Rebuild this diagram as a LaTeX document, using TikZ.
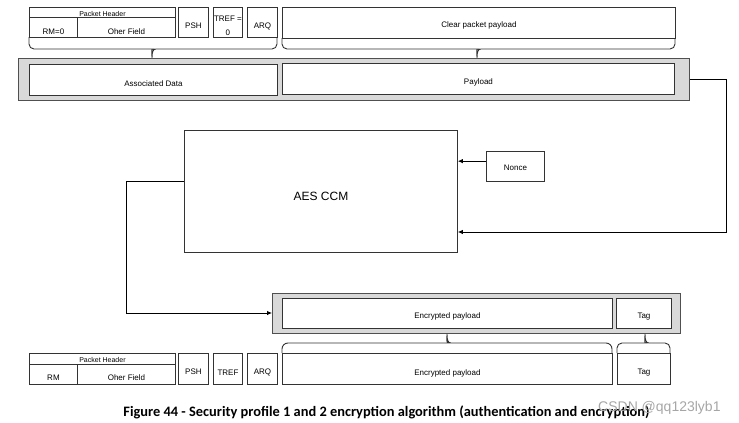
\documentclass[tikz,border=0pt]{standalone}
\usepackage{fontspec}
\setmainfont{Liberation Sans}
\newfontfamily\capfont{Carlito}
\usetikzlibrary{arrows.meta,calc}
\definecolor{boxline}{HTML}{333333}
\definecolor{grayfill}{HTML}{D9D9D9}
\definecolor{grayline}{HTML}{505050}
\newcommand\lowr[2][3.5pt]{\raisebox{-#1}[\height][\depth]{#2}}
\begin{document}
\begin{tikzpicture}[x=1pt,y=-1pt,
  box/.style={draw=boxline, fill=white, line width=0.9pt, inner sep=0pt, anchor=north west, align=center, font=\fontsize{8}{9.6}\selectfont},
  smallbox/.style={box, font=\fontsize{7}{8}\selectfont},
  container/.style={draw=grayline, fill=grayfill, line width=1.3pt, inner sep=0pt, anchor=north west},
  brc/.style={draw=boxline, line width=0.9pt},
  arr/.style={draw=black, line width=0.8pt, -{Latex[length=5pt,width=4.5pt]}}]
\useasboundingbox (0,0) rectangle (739,423);

% ---------- top row ----------
\node[smallbox, minimum width=146pt, minimum height=10pt] (phA) at (29,7) {\lowr[1.5pt]{Packet Header}};
\node[box, minimum width=48pt, minimum height=20pt] (rmA) at (29,17) {\lowr[4pt]{RM=0}};
\node[box, minimum width=98pt, minimum height=20pt] (ofA) at (77,17) {\lowr[4pt]{Oher Field}};
\node[box, minimum width=30pt, minimum height=30pt] (pshA) at (178,7) {\lowr[3pt]{PSH}};
\node[box, minimum width=29pt, minimum height=30pt] (trefA) at (213,7) {\lowr[4pt]{\begin{tabular}{@{}c@{}}TREF =\\[4.4pt]0\end{tabular}}};
\node[box, minimum width=30pt, minimum height=30pt] (arqA) at (247,7) {\lowr[4pt]{ARQ}};
\node[box, minimum width=393pt, minimum height=31pt] (clear) at (282,7) {\lowr[2.5pt]{Clear packet payload}};

% top braces
\draw[brc] (29,37) [rounded corners=5pt] -- (29,49) -- (148,49) [sharp corners]
  .. controls (151,49) and (152,52) .. (152,58)
  .. controls (152,52) and (153,49) .. (156,49) [rounded corners=5pt] -- (277,49) -- (277,37);
\draw[brc] (282,38) [rounded corners=5pt] -- (282,49) -- (473,49) [sharp corners]
  .. controls (476,49) and (477,52) .. (477,58)
  .. controls (477,52) and (478,49) .. (481,49) [rounded corners=5pt] -- (675,49) -- (675,38);

% ---------- gray container 1 ----------
\node[container, minimum width=671pt, minimum height=42pt] (g1) at (18,58) {};
\node[box, minimum width=248pt, minimum height=31pt] (ad) at (29,64) {\lowr[4pt]{Associated Data}};
\node[box, minimum width=392pt, minimum height=31pt] (pl) at (282,63) {\lowr[3.5pt]{Payload}};

% ---------- AES CCM ----------
\node[box, minimum width=273pt, minimum height=122pt, font=\fontsize{12}{14}\selectfont] (aes) at (184,130) {\lowr[5pt]{AES CCM}};
\node[box, minimum width=58pt, minimum height=30pt] (nonce) at (486,151) {\lowr[1pt]{Nonce}};

% ---------- gray container 2 ----------
\node[container, minimum width=408pt, minimum height=40pt] (g2) at (272,293) {};
\node[box, minimum width=330pt, minimum height=30pt] (ep) at (282,298) {\lowr[3pt]{Encrypted payload}};
\node[box, minimum width=55pt, minimum height=30pt] (tag) at (616,298) {\lowr[3pt]{Tag}};

% ---------- connectors ----------
\coordinate (c2) at (726,232);
\coordinate (c3) at (126,313);
\draw[arr] ([yshift=5.3pt]nonce.west) -- ([yshift=5.3pt]nonce.west -| aes.east);
\draw[arr] (g1.east) -| (c2) -- (c2 -| aes.east);
\draw[arr] ([yshift=10pt]aes.west) -| (c3) -- (c3 -| g2.west);

% ---------- bottom braces ----------
\draw[brc] (282,353) [rounded corners=6pt] -- (282,343) -- (443,343) [sharp corners]
  .. controls (446,343) and (447,340) .. (447,334)
  .. controls (447,340) and (448,343) .. (451,343) [rounded corners=6pt] -- (612,343) -- (612,353);
\draw[brc] (617,353) [rounded corners=5pt] -- (617,343) -- (641,343) [sharp corners]
  .. controls (644,343) and (645,340) .. (645,334)
  .. controls (645,340) and (646,343) .. (649,343) [rounded corners=5pt] -- (670,343) -- (670,353);

% ---------- bottom row ----------
\node[smallbox, minimum width=146pt, minimum height=11pt] (phB) at (29,353) {\lowr[1.5pt]{Packet Header}};
\node[box, minimum width=48pt, minimum height=20pt] (rmB) at (29,364) {\lowr[3pt]{RM}};
\node[box, minimum width=98pt, minimum height=20pt] (ofB) at (77,364) {\lowr[3pt]{Oher Field}};
\node[box, minimum width=30pt, minimum height=31pt] (pshB) at (178,353) {\lowr[2.5pt]{PSH}};
\node[box, minimum width=29pt, minimum height=31pt] (trefB) at (213,353) {\lowr[4pt]{TREF}};
\node[box, minimum width=30pt, minimum height=31pt] (arqB) at (247,353) {\lowr[4pt]{ARQ}};
\node[box, minimum width=330pt, minimum height=31pt] (epB) at (282,353) {\lowr[4pt]{Encrypted payload}};
\node[box, minimum width=53pt, minimum height=31pt] (tagB) at (617,353) {\lowr[4pt]{Tag}};

% ---------- caption & watermark ----------
\node[anchor=base, inner sep=0pt, font=\capfont\bfseries\fontsize{14.4}{16}\selectfont] (cap) at (386.5,416)
  {Figure 44 - Security profile 1 and 2 encryption algorithm (authentication and encryption)};
\node[anchor=base west, inner sep=0pt, text=black!35, font=\fontsize{14}{16}\selectfont] (wm) at (598,411) {CSDN @qq123lyb1};
\end{tikzpicture}
\end{document}
